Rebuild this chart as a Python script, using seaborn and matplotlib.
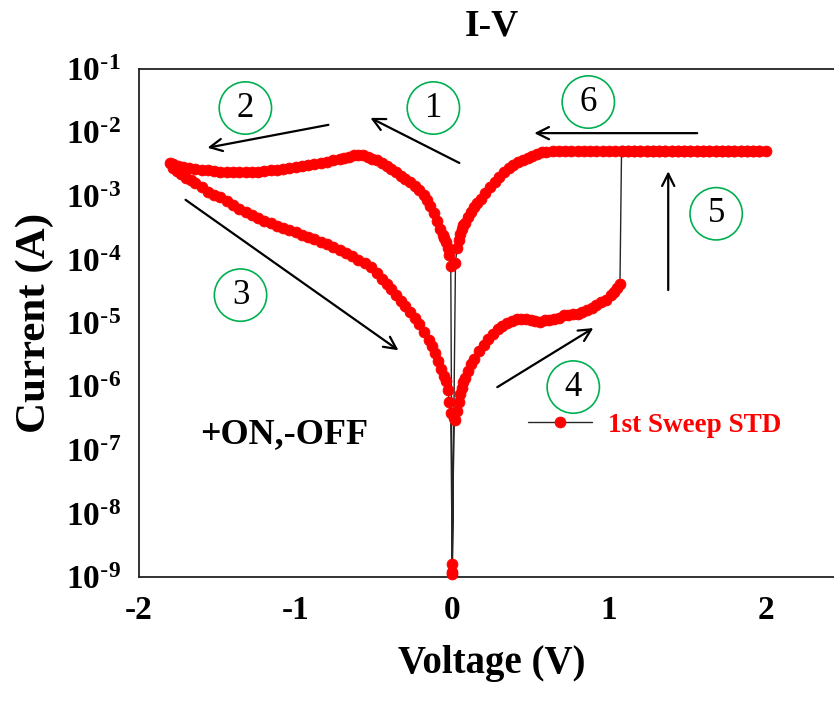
import matplotlib
matplotlib.use("Agg")
import matplotlib.pyplot as plt
import pandas as pd
import seaborn as sns

# ---- I-V sweep, read segment by segment (voltage in V, current in A) ----
# segment 1: 0 V -> -0.6 V (LRS, negative side)
seg1_v = [0.00, -0.01, -0.02, -0.03, -0.04, -0.05, -0.06, -0.08, -0.10, -0.12,
          -0.14, -0.16, -0.18, -0.21, -0.24, -0.27, -0.30, -0.33, -0.36, -0.39,
          -0.42, -0.45, -0.48, -0.51, -0.54, -0.57, -0.60]
seg1_i = [1.2e-9, 7.9e-5, 1.17e-4, 1.51e-4, 1.86e-4, 2.19e-4, 2.45e-4, 3.02e-4, 3.98e-4, 5.37e-4,
          6.92e-4, 8.51e-4, 1.02e-3, 1.23e-3, 1.45e-3, 1.66e-3, 1.86e-3, 2.09e-3, 2.40e-3, 2.69e-3,
          3.02e-3, 3.31e-3, 3.63e-3, 3.89e-3, 4.17e-3, 4.37e-3, 4.47e-3]

# segment 2: -0.6 V -> -1.8 V (reset region)
seg2_v = [-0.63, -0.66, -0.69, -0.72, -0.76, -0.80, -0.84, -0.88, -0.92, -0.96,
          -1.00, -1.04, -1.08, -1.12, -1.16, -1.20, -1.24, -1.28, -1.32, -1.36,
          -1.40, -1.44, -1.48, -1.52, -1.56, -1.60, -1.64, -1.68, -1.72, -1.75,
          -1.78, -1.80]
seg2_i = [4.37e-3, 4.17e-3, 3.98e-3, 3.80e-3, 3.63e-3, 3.47e-3, 3.31e-3, 3.16e-3, 3.09e-3, 2.95e-3,
          2.82e-3, 2.72e-3, 2.66e-3, 2.60e-3, 2.54e-3, 2.48e-3, 2.43e-3, 2.40e-3, 2.40e-3, 2.37e-3,
          2.40e-3, 2.40e-3, 2.43e-3, 2.48e-3, 2.54e-3, 2.60e-3, 2.69e-3, 2.79e-3, 2.88e-3, 3.02e-3,
          3.16e-3, 3.31e-3]

# segment 3: -1.8 V -> 0 V (HRS)
seg3_v = [-1.78, -1.76, -1.73, -1.70, -1.67, -1.64, -1.60, -1.56, -1.52, -1.48,
          -1.44, -1.40, -1.36, -1.32, -1.28, -1.24, -1.20, -1.16, -1.12, -1.08,
          -1.04, -1.00, -0.96, -0.92, -0.88, -0.84, -0.80, -0.76, -0.72, -0.68,
          -0.64, -0.60, -0.56, -0.52, -0.48, -0.45, -0.42, -0.39, -0.36, -0.33,
          -0.30, -0.27, -0.24, -0.21, -0.18, -0.15, -0.13, -0.11, -0.09, -0.07,
          -0.05, -0.04, -0.03, -0.02, -0.01, 0.00]
seg3_i = [2.75e-3, 2.51e-3, 2.19e-3, 1.95e-3, 1.78e-3, 1.58e-3, 1.38e-3, 1.17e-3, 1.05e-3, 9.55e-4,
          8.32e-4, 7.24e-4, 6.31e-4, 5.62e-4, 5.01e-4, 4.47e-4, 4.07e-4, 3.72e-4, 3.39e-4, 3.16e-4,
          2.88e-4, 2.69e-4, 2.45e-4, 2.29e-4, 2.09e-4, 1.91e-4, 1.74e-4, 1.58e-4, 1.41e-4, 1.26e-4,
          1.12e-4, 1.00e-4, 8.71e-5, 7.59e-5, 6.03e-5, 5.01e-5, 4.17e-5, 3.47e-5, 2.75e-5, 2.24e-5,
          1.86e-5, 1.51e-5, 1.20e-5, 9.55e-6, 7.24e-6, 5.37e-6, 4.27e-6, 3.31e-6, 2.51e-6, 1.91e-6,
          1.45e-6, 1.20e-6, 8.91e-7, 5.75e-7, 3.80e-7, 1.1e-9]

# segment 4: 0 V -> 1.07 V (HRS, positive side)
seg4_v = [0.01, 0.02, 0.03, 0.04, 0.05, 0.06, 0.07, 0.08, 0.10, 0.12,
          0.14, 0.17, 0.20, 0.23, 0.26, 0.29, 0.32, 0.35, 0.38, 0.41,
          0.44, 0.47, 0.50, 0.53, 0.56, 0.59, 0.62, 0.65, 0.68, 0.71,
          0.74, 0.77, 0.80, 0.83, 0.86, 0.89, 0.92, 0.95, 0.98, 1.01,
          1.03, 1.05, 1.07]
seg4_i = [3.16e-7, 3.02e-7, 4.17e-7, 5.75e-7, 7.59e-7, 9.33e-7, 1.17e-6, 1.38e-6, 1.78e-6, 2.24e-6,
          2.75e-6, 3.63e-6, 4.57e-6, 5.62e-6, 6.76e-6, 7.94e-6, 9.12e-6, 1.00e-5, 1.07e-5, 1.15e-5,
          1.17e-5, 1.15e-5, 1.12e-5, 1.07e-5, 1.05e-5, 1.10e-5, 1.12e-5, 1.15e-5, 1.20e-5, 1.32e-5,
          1.32e-5, 1.38e-5, 1.41e-5, 1.48e-5, 1.58e-5, 1.70e-5, 1.95e-5, 2.14e-5, 2.34e-5, 2.75e-5,
          3.09e-5, 3.55e-5, 4.07e-5]

# segment 5: set at ~1.08 V, compliance up to 2 V
seg5_v = [1.08, 1.12, 1.16, 1.20, 1.24, 1.28, 1.32, 1.36, 1.40, 1.44,
          1.48, 1.52, 1.56, 1.60, 1.64, 1.68, 1.72, 1.76, 1.80, 1.84,
          1.88, 1.92, 1.96, 2.00]
seg5_i = [5.1e-3, 5.1e-3, 5.1e-3, 5.1e-3, 5.1e-3, 5.1e-3, 5.1e-3, 5.1e-3, 5.1e-3, 5.1e-3,
          5.1e-3, 5.1e-3, 5.1e-3, 5.1e-3, 5.1e-3, 5.1e-3, 5.1e-3, 5.1e-3, 5.1e-3, 5.1e-3,
          5.1e-3, 5.1e-3, 5.1e-3, 5.1e-3]

# segment 6: 2 V -> 0 V (LRS return)
seg6_v = [1.96, 1.92, 1.88, 1.84, 1.80, 1.76, 1.72, 1.68, 1.64, 1.60,
          1.56, 1.52, 1.48, 1.44, 1.40, 1.36, 1.32, 1.28, 1.24, 1.20,
          1.16, 1.12, 1.08, 1.04, 1.00, 0.96, 0.92, 0.88, 0.84, 0.80,
          0.76, 0.72, 0.68, 0.64, 0.60, 0.57, 0.54, 0.51, 0.48, 0.45,
          0.42, 0.39, 0.36, 0.33, 0.30, 0.27, 0.24, 0.21, 0.18, 0.16,
          0.14, 0.12, 0.10, 0.08, 0.07, 0.06, 0.05, 0.04, 0.03, 0.02,
          0.00]
seg6_i = [5.1e-3, 5.1e-3, 5.1e-3, 5.1e-3, 5.1e-3, 5.1e-3, 5.1e-3, 5.1e-3, 5.1e-3, 5.1e-3,
          5.1e-3, 5.1e-3, 5.1e-3, 5.1e-3, 5.1e-3, 5.1e-3, 5.1e-3, 5.1e-3, 5.1e-3, 5.1e-3,
          5.1e-3, 5.1e-3, 5.1e-3, 5.1e-3, 5.1e-3, 5.1e-3, 5.1e-3, 5.1e-3, 5.1e-3, 5.1e-3,
          5.1e-3, 5.1e-3, 5.1e-3, 5.1e-3, 5.0e-3, 4.90e-3, 4.57e-3, 4.27e-3, 3.98e-3, 3.72e-3,
          3.39e-3, 3.09e-3, 2.75e-3, 2.40e-3, 2.00e-3, 1.66e-3, 1.38e-3, 1.12e-3, 8.91e-4, 7.76e-4,
          6.61e-4, 5.62e-4, 4.68e-4, 3.80e-4, 3.47e-4, 3.02e-4, 2.51e-4, 2.00e-4, 1.51e-4, 8.91e-5,
          1.6e-9]

x_ticks = [-2, -1, 0, 1, 2]
x_tick_labels = ["-2", "-1", "0", "1", "2"]
y_exponents = [-9, -8, -7, -6, -5, -4, -3, -2, -1]

sweep = pd.DataFrame({
    "Voltage": seg1_v + seg2_v + seg3_v + seg4_v + seg5_v + seg6_v,
    "Current": seg1_i + seg2_i + seg3_i + seg4_i + seg5_i + seg6_i,
})

sns.set_style("white")
plt.rcParams["font.family"] = ["Liberation Serif", "DejaVu Serif"]
plt.rcParams["axes.unicode_minus"] = False
plt.rcParams["text.color"] = "black"
plt.rcParams["axes.labelcolor"] = "black"
plt.rcParams["xtick.color"] = "black"
plt.rcParams["ytick.color"] = "black"

fig = plt.figure(figsize=(8.34, 7.02), dpi=100)
ax = fig.add_axes([139 / 834, 1 - 577 / 702, 705 / 834, 508 / 702])
ax.set_yscale("log")

sns.lineplot(data=sweep, x="Voltage", y="Current", sort=False, estimator=None, ax=ax,
             color="#262626", linewidth=1.0, marker="o", markersize=7.8,
             markerfacecolor="#ff0000", markeredgecolor="#ff0000", markeredgewidth=0.6,
             label="1st Sweep STD", clip_on=False, zorder=3)

ax.set_xlim(-2, 2.5)
ax.set_ylim(1e-9, 1e-1)

# axes frame: left, bottom, top
for side in ["left", "bottom", "top"]:
    ax.spines[side].set_color("#222222")
    ax.spines[side].set_linewidth(1.3)
ax.spines["right"].set_visible(False)

bold = dict(family="Liberation Serif", weight="bold")
ax.set_xticks(x_ticks)
ax.set_xticklabels(x_tick_labels, fontdict=dict(size=24, color="black", **bold))
ax.set_yticks([10.0 ** e for e in y_exponents])
ax.set_yticklabels([r"$\mathregular{10^{\text{-}%d}}$" % -e for e in y_exponents],
                   fontdict=dict(size=24, color="black", **bold))
ax.yaxis.set_minor_locator(matplotlib.ticker.NullLocator())
ax.tick_params(axis="both", which="major", direction="in", length=5, width=1.0,
               color="#222222", top=False, right=False)
ax.tick_params(axis="x", pad=13)
ax.tick_params(axis="y", pad=13)

ax.set_xlabel("Voltage (V)", fontsize=28, fontweight="bold", labelpad=14, color="black")
ax.set_ylabel("Current (A)", fontsize=31, fontweight="bold", labelpad=8, color="black")
ax.set_title("I-V", fontsize=27, fontweight="bold", pad=24, color="black")

# sweep-direction arrows (tail -> head)
arrows = [
    ((0.045, 3.31e-3), (-0.523, 1.70e-2)),
    ((-0.791, 1.32e-2), (-1.563, 5.75e-3)),
    ((-1.703, 8.71e-4), (-0.344, 3.72e-6)),
    ((0.287, 9.77e-7), (0.900, 8.32e-6)),
    ((1.378, 3.31e-5), (1.378, 2.45e-3)),
    ((1.563, 9.77e-3), (0.523, 9.77e-3)),
]
for tail, head in arrows:
    ax.annotate("", xy=head, xytext=tail,
                arrowprops=dict(arrowstyle="->", color="black", lw=1.6,
                                mutation_scale=22, shrinkA=0, shrinkB=0))

# numbered step markers
steps = [
    ("1", -0.121, 2.43e-2),
    ("2", -1.321, 2.43e-2),
    ("3", -1.352, 2.75e-5),
    ("4", 0.772, 9.8e-7),
    ("5", 1.684, 5.25e-4),
    ("6", 0.868, 3.02e-2),
]
ax.scatter([s[1] for s in steps], [s[2] for s in steps], s=1420, marker="o",
           facecolors="none", edgecolors="#00b050", linewidths=1.2, zorder=4)
for label, xv, yv in steps:
    ax.text(xv, yv, label, ha="center", va="center", fontsize=25,
            family="Liberation Serif", color="black", zorder=5)

ax.text(0.0865, 0.2638, "+ON,-OFF", transform=ax.transAxes, ha="left", va="baseline",
        fontsize=26, color="black", **bold)

leg = ax.legend(loc="center left", bbox_to_anchor=(528 / 834, 1 - 425 / 702),
                bbox_transform=fig.transFigure, frameon=False, borderpad=0,
                borderaxespad=0, handlelength=2.35, handletextpad=0.6, numpoints=1,
                prop=dict(family="Liberation Serif", weight="bold", size=19.5),
                labelcolor="#ff0000")

fig.savefig("out.png", dpi=100)
